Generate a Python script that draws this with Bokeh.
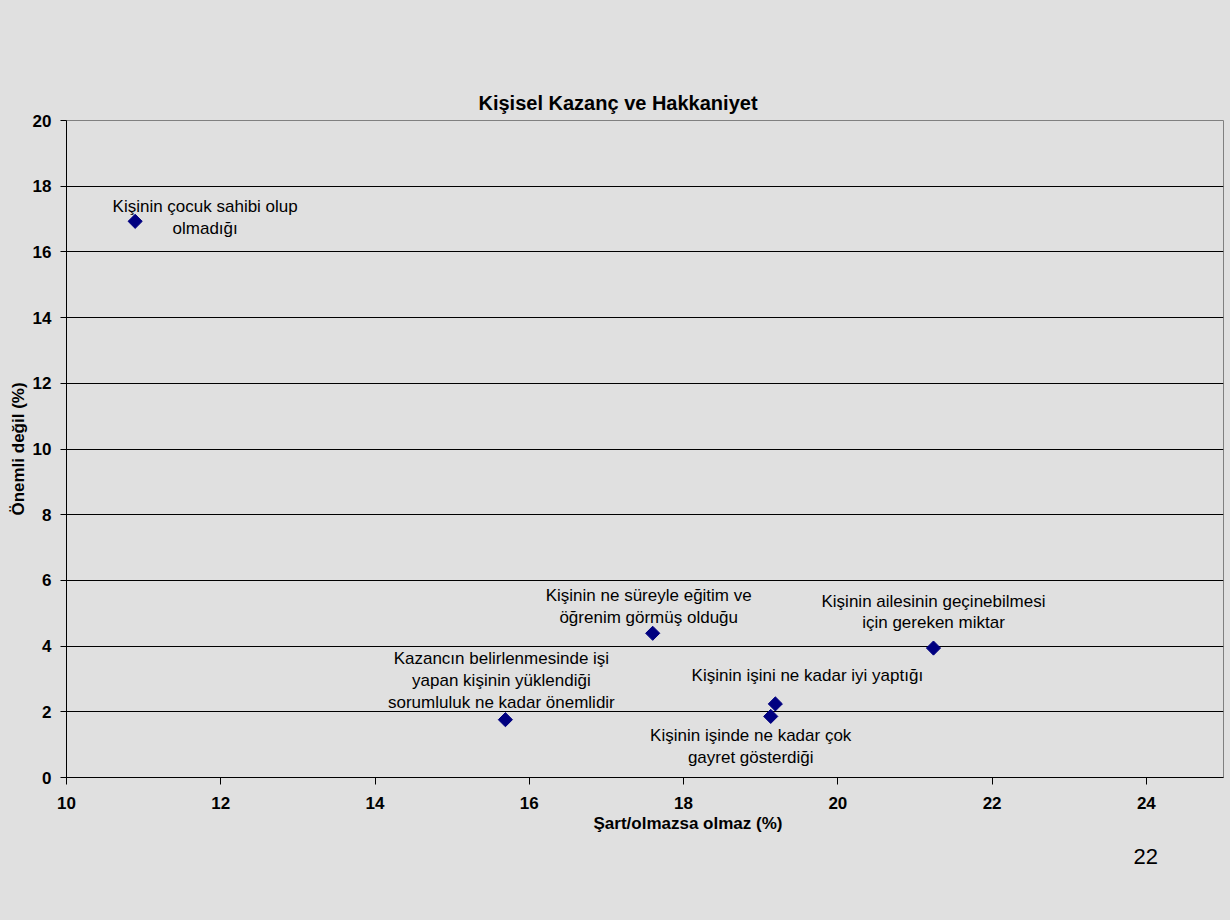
from bokeh.plotting import figure
from bokeh.models import ColumnDataSource, FixedTicker, Title
from bokeh.core.properties import value
from bokeh.embed import file_html
from bokeh.resources import INLINE

# ---- data ----
x_vals = [10.89, 15.69, 17.60, 19.19, 19.13, 21.24]
y_vals = [16.93, 1.76, 4.39, 2.24, 1.86, 3.94]
labels = [
    "Kişinin çocuk sahibi olup\nolmadığı",
    "Kazancın belirlenmesinde işi\nyapan kişinin yüklendiği\nsorumluluk ne kadar önemlidir",
    "Kişinin ne süreyle eğitim ve\nöğrenim görmüş olduğu",
    "Kişinin işini ne kadar iyi yaptığı",
    "Kişinin işinde ne kadar çok\ngayret gösterdiği",
    "Kişinin ailesinin geçinebilmesi\niçin gereken miktar",
]
x_ticks = [10, 12, 14, 16, 18, 20, 22, 24]
y_ticks = [0, 2, 4, 6, 8, 10, 12, 14, 16, 18, 20]
title_text = "Kişisel Kazanç ve Hakkaniyet"
x_title = "Şart/olmazsa olmaz (%)"
y_title = "Önemli değil (%)"
page_no = "22"

# label placement (screen px offsets from each point)
label_dx = [70, -4, -4, 32, -20, 0]
label_dy = [-3.5, -39, -27, -28, 30, -36]

BG = "#e0e0e0"
FONT = "Liberation Sans"

p = figure(width=1230, height=920, x_range=(10, 25), y_range=(0, 20),
           output_backend="svg", toolbar_location=None,
           min_border_left=66, min_border_right=7,
           min_border_top=120, min_border_bottom=143,
           background_fill_color=BG, border_fill_color=BG)
p.title = None
p.add_layout(Title(text=title_text, align="left", offset=412,
                   text_font=FONT, text_font_size="20px", text_font_style="bold",
                   text_color="black", standoff=14), "above")

p.outline_line_color = "#808080"
p.outline_line_width = 1

# grid
p.xgrid.visible = False
p.ygrid.ticker = FixedTicker(ticks=y_ticks[1:-1])
p.ygrid.grid_line_color = "black"
p.ygrid.grid_line_width = 1

# axes
for ax in (p.xaxis[0], p.yaxis[0]):
    ax.axis_line_color = "black"
    ax.major_tick_line_color = "black"
    ax.major_tick_in = 0
    ax.minor_tick_line_color = None
    ax.major_label_text_font = FONT
    ax.major_label_text_font_size = "17px"
    ax.major_label_text_font_style = "bold"
    ax.major_label_text_color = "black"

p.xaxis[0].ticker = FixedTicker(ticks=x_ticks)
p.xaxis[0].major_tick_out = 7
p.xaxis[0].major_label_standoff = 12

p.yaxis[0].ticker = FixedTicker(ticks=y_ticks)
p.yaxis[0].major_tick_out = 6
p.yaxis[0].major_label_standoff = 9
p.yaxis[0].axis_label = y_title
p.yaxis[0].axis_label_text_font = FONT
p.yaxis[0].axis_label_text_font_size = "17px"
p.yaxis[0].axis_label_text_font_style = "bold"
p.yaxis[0].axis_label_text_color = "black"
p.yaxis[0].axis_label_standoff = 2

# x-axis title and page number as bottom titles
p.add_layout(Title(text=x_title, align="left", offset=527,
                   text_font=FONT, text_font_size="17px", text_font_style="bold",
                   text_color="black", standoff=0), "below")
p.add_layout(Title(text=page_no, align="left", offset=1067,
                   text_font=FONT, text_font_size="22px", text_font_style="normal",
                   text_color="black", standoff=28), "below")

src = ColumnDataSource(dict(x=x_vals, y=y_vals, label=labels,
                            dx=label_dx, dy=label_dy))

p.scatter("x", "y", source=src, marker="square", angle=0.785398, size=10,
          fill_color="#000080", line_color="#000080")

p.text("x", "y", text="label", x_offset="dx", y_offset="dy", source=src,
       text_font=value(FONT), text_font_size="17px", text_color="black",
       text_align="center", text_baseline="middle", text_line_height=1.15)

template = """
{% block preamble %}
<style>html, body { background: #e0e0e0; }</style>
{% endblock %}
"""
html = file_html(p, INLINE, "Kişisel Kazanç ve Hakkaniyet", template=template)
with open("out.html", "w", encoding="utf-8") as f:
    f.write(html)
